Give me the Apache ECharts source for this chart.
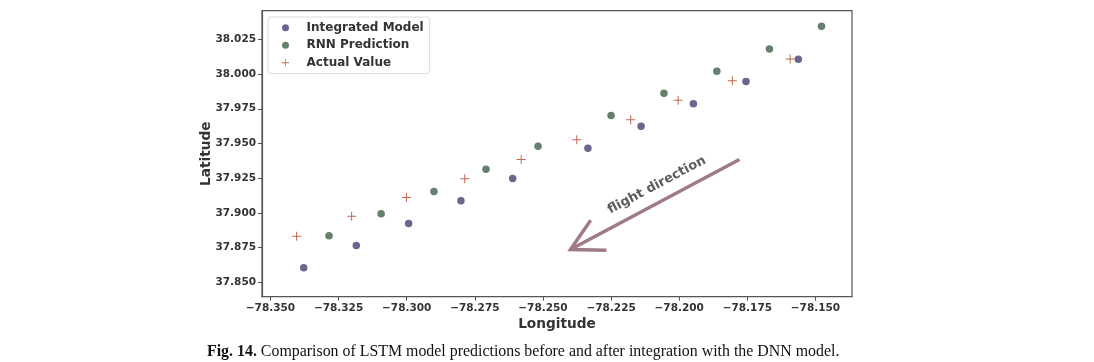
<!DOCTYPE html>
<html>
<head>
<meta charset="utf-8">
<script src="https://cdn.jsdelivr.net/npm/echarts@6/dist/echarts.min.js"></script>
<style>
html,body{margin:0;padding:0;background:#fff;}
#c{width:1094px;height:362px;}
</style>
</head>
<body>
<div id="c"></div>
<script>
// ---- data ----
const seriesNames = ['Integrated Model', 'RNN Prediction', 'Actual Value'];
const integratedLon = [-78.3378, -78.3185, -78.2993, -78.2801, -78.2611, -78.2335, -78.2140, -78.1948, -78.1755, -78.1563];
const integratedLat = [37.8606, 37.8766, 37.8924, 37.9088, 37.9248, 37.9466, 37.9624, 37.9786, 37.9946, 38.0107];
const rnnLon = [-78.3285, -78.3094, -78.2900, -78.2709, -78.2518, -78.2250, -78.2056, -78.1862, -78.1669, -78.1478];
const rnnLat = [37.8836, 37.8994, 37.9155, 37.9315, 37.9481, 37.9701, 37.9862, 38.0020, 38.0181, 38.0344];
const actualLon = [-78.3404, -78.3202, -78.3001, -78.2787, -78.2580, -78.2376, -78.2178, -78.2004, -78.1805, -78.1593];
const actualLat = [37.8833, 37.8977, 37.9112, 37.9246, 37.9385, 37.9527, 37.9671, 37.9812, 37.9951, 38.0109];
const xTicks = [-78.350, -78.325, -78.300, -78.275, -78.250, -78.225, -78.200, -78.175, -78.150];
const yTicks = [37.850, 37.875, 37.900, 37.925, 37.950, 37.975, 38.000, 38.025];
// annotation arrow in data coordinates: shaft start -> tip, head ends
const arrowShaft = [[-78.1779, 37.9385], [-78.2399, 37.8737]];
const arrowHead = [[-78.2325, 37.8948], [-78.2399, 37.8737], [-78.2267, 37.8732]];
const arrowLabelPos = [-78.2082, 37.9200];
const arrowLabel = 'flight direction';
const xName = 'Longitude';
const yName = 'Latitude';
const captionBold = 'Fig. 14.';
const captionText = ' Comparison of LSTM model predictions before and after integration with the DNN model.';

const zip = (a, b) => a.map((v, i) => [v, b[i]]);
const fmt = v => v.toFixed(3).replace('-', '\u2212');
const FONT = 'DejaVu Sans';
const plusPath = 'path://M0,4.45 H10 V5.55 H0 Z M4.45,0 H5.55 V10 H4.45 Z';
const colors = {integrated: '#6b6590', rnn: '#66806e', actual: '#c0674e', arrow: '#a07a88'};

const chart = echarts.init(document.getElementById('c'), null, {renderer: 'canvas'});
chart.setOption({
  animation: false,
  backgroundColor: '#fff',
  grid: {left: 262, right: 242, top: 10.7, bottom: 65.3, show: true, borderColor: '#555', borderWidth: 1.2, backgroundColor: 'transparent'},
  legend: {
    orient: 'vertical', left: 268, top: 17,
    data: seriesNames,
    itemWidth: 32, itemHeight: 7, itemGap: 0,
    padding: [2, 6, 2, 14],
    borderColor: '#dcdcdc', borderWidth: 1, borderRadius: 3,
    backgroundColor: 'rgba(255,255,255,0.85)',
    textStyle: {fontFamily: FONT, fontWeight: 'bold', fontSize: 12, color: '#333', lineHeight: 17.5}
  },
  xAxis: {
    type: 'value', min: -78.3531, max: -78.1366,
    name: xName, nameLocation: 'middle', nameGap: 21, nameMoveOverlap: false,
    nameTextStyle: {fontFamily: FONT, fontWeight: 'bold', fontSize: 13.7, color: '#333'},
    splitLine: {show: false},
    axisLine: {show: true, onZero: false, lineStyle: {color: '#555', width: 1.2}},
    axisTick: {show: true, length: 4, lineStyle: {color: '#555'}, customValues: xTicks},
    axisLabel: {fontFamily: FONT, fontWeight: 'bold', fontSize: 10.5, color: '#333', margin: 6, customValues: xTicks, formatter: fmt}
  },
  yAxis: {
    type: 'value', min: 37.8397, max: 38.0456,
    name: yName, nameLocation: 'middle', nameGap: 49, nameRotate: 90, nameMoveOverlap: false,
    nameTextStyle: {fontFamily: FONT, fontWeight: 'bold', fontSize: 13.7, color: '#333'},
    splitLine: {show: false},
    axisLine: {show: true, onZero: false, lineStyle: {color: '#555', width: 1.2}},
    axisTick: {show: true, length: 4, lineStyle: {color: '#555'}, customValues: yTicks},
    axisLabel: {fontFamily: FONT, fontWeight: 'bold', fontSize: 10.5, color: '#333', margin: 6, customValues: yTicks, formatter: v => v.toFixed(3)}
  },
  series: [
    {name: seriesNames[0], type: 'scatter', symbol: 'circle', symbolSize: 7.5, itemStyle: {color: colors.integrated, opacity: 1}, data: zip(integratedLon, integratedLat), z: 3},
    {name: seriesNames[1], type: 'scatter', symbol: 'circle', symbolSize: 7.5, itemStyle: {color: colors.rnn, opacity: 1}, data: zip(rnnLon, rnnLat), z: 3},
    {name: seriesNames[2], type: 'scatter', symbol: plusPath, symbolSize: 9, itemStyle: {color: colors.actual, opacity: 1}, data: zip(actualLon, actualLat), z: 3},
    {type: 'line', data: arrowShaft, symbol: 'none', lineStyle: {color: colors.arrow, width: 3.5}, silent: true, z: 2},
    {type: 'line', data: arrowHead, symbol: 'none', lineStyle: {color: colors.arrow, width: 3.5, join: 'miter'}, silent: true, z: 2},
    {type: 'scatter', data: [arrowLabelPos], symbolSize: 0, silent: true, z: 4,
      label: {show: true, position: 'inside', formatter: arrowLabel, rotate: 28, fontFamily: FONT, fontWeight: 'bold', fontSize: 13, color: '#333'}}
  ],
  graphic: [{
    type: 'text', left: 207, top: 344,
    style: {
      rich: {
        b: {fontFamily: 'Liberation Serif', fontWeight: 'bold', fontSize: 15.9, fill: '#111'},
        n: {fontFamily: 'Liberation Serif', fontSize: 15.9, fill: '#111'}
      },
      text: '{b|' + captionBold + '}{n|' + captionText + '}'
    }
  }]
});
</script>
</body>
</html>
